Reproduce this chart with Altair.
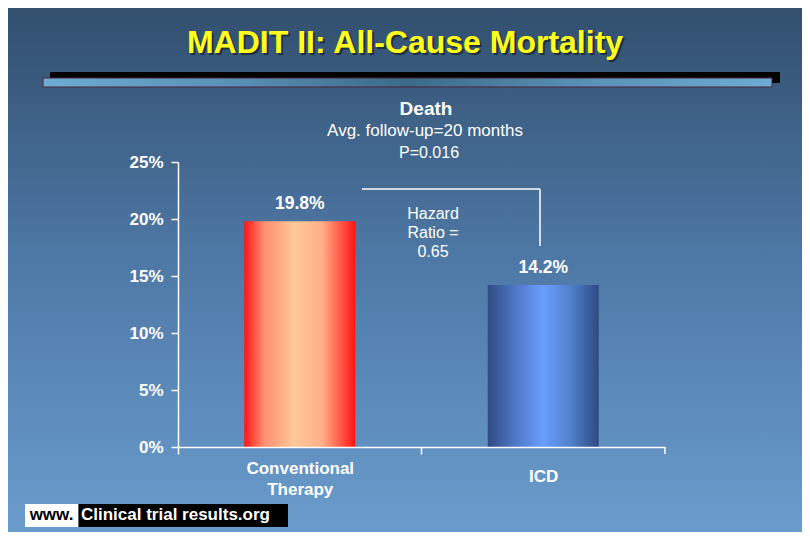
import altair as alt
import pandas as pd

# ---------------- data ----------------
categories = ["Conventional Therapy", "ICD"]
mortality = [0.198, 0.142]
y_ticks = [0, 0.05, 0.10, 0.15, 0.20, 0.25]
title_text = "MADIT II: All-Cause Mortality"
header_lines = ["Death", "Avg. follow-up=20 months", "P=0.016"]
hazard_lines = ["Hazard", "Ratio =", "0.65"]
footer_www = "www."
footer_site = "Clinical trial results.org"

# ---------------- layout helpers ----------------
W, H = 487, 285
PAD_L, PAD_T = 170, 154
PAD_R = 794 - PAD_L - W
PAD_B = 524 - PAD_T - H
FONT = "Liberation Sans"
STEP = W / 2


def px(x):
    return x - 8 - PAD_L


def py(y):
    return y - 8 - PAD_T


df = pd.DataFrame({"category": categories, "value": mortality})
one = pd.DataFrame({"a": [0]})

# ---------------- background ----------------
bg_grad = alt.Gradient(
    gradient="linear", x1=0, y1=0, x2=0, y2=1,
    stops=[alt.GradientStop(color="#324f6e", offset=0),
           alt.GradientStop(color="#4f7aa8", offset=0.5),
           alt.GradientStop(color="#6a9ccd", offset=1)])
background = alt.Chart(one).mark_rect(color=bg_grad).encode(
    x=alt.value(-PAD_L), x2=alt.value(W + PAD_R),
    y=alt.value(-PAD_T), y2=alt.value(H + PAD_B))

# decorative bar under title
deco_shadow = alt.Chart(one).mark_rect(color="#000000").encode(
    x=alt.value(px(50)), x2=alt.value(px(780)),
    y=alt.value(py(72)), y2=alt.value(py(83)))
deco_grad = alt.Gradient(
    gradient="linear", x1=0, y1=0, x2=1, y2=0,
    stops=[alt.GradientStop(color="#6cabd3", offset=0),
           alt.GradientStop(color="#5a92b8", offset=0.25),
           alt.GradientStop(color="#3b6a89", offset=0.5),
           alt.GradientStop(color="#5a92b8", offset=0.75),
           alt.GradientStop(color="#6cabd3", offset=1)])
deco_bar = alt.Chart(one).mark_rect(color=deco_grad, stroke="#4a2438", strokeWidth=1).encode(
    x=alt.value(px(43)), x2=alt.value(px(772)),
    y=alt.value(py(78)), y2=alt.value(py(87)))

# title
title_shadow = alt.Chart(one).mark_text(
    font=FONT, fontSize=32, fontWeight="bold", color="#1a2636", opacity=0.8,
    align="center", baseline="alphabetic").encode(
    x=alt.value(px(405) + 2), y=alt.value(py(53) + 2), text=alt.value(title_text))
title = alt.Chart(one).mark_text(
    font=FONT, fontSize=32, fontWeight="bold", color="#ffff1a",
    align="center", baseline="alphabetic").encode(
    x=alt.value(px(405)), y=alt.value(py(53)), text=alt.value(title_text))

# header text
header = (
    alt.Chart(one).mark_text(font=FONT, fontSize=19, fontWeight="bold", color="white",
                             align="center", baseline="alphabetic").encode(
        x=alt.value(px(426)), y=alt.value(py(115)), text=alt.value(header_lines[0]))
    + alt.Chart(one).mark_text(font=FONT, fontSize=17, color="white",
                               align="center", baseline="alphabetic").encode(
        x=alt.value(px(425)), y=alt.value(py(136)), text=alt.value(header_lines[1]))
    + alt.Chart(one).mark_text(font=FONT, fontSize=16, color="white",
                               align="center", baseline="alphabetic").encode(
        x=alt.value(px(429)), y=alt.value(py(158)), text=alt.value(header_lines[2]))
)

hazard = None
for i, line in enumerate(hazard_lines):
    t = alt.Chart(one).mark_text(font=FONT, fontSize=16, color="white",
                                 align="center", baseline="alphabetic").encode(
        x=alt.value(px(433)), y=alt.value(py(219.3 + 18.7 * i)), text=alt.value(line))
    hazard = t if hazard is None else hazard + t

# bracket
bracket = (
    alt.Chart(one).mark_rule(color="white", strokeWidth=1.5).encode(
        x=alt.value(px(362)), x2=alt.value(px(540)), y=alt.value(py(189)))
    + alt.Chart(one).mark_rule(color="white", strokeWidth=1.5).encode(
        x=alt.value(px(540)), y=alt.value(py(189)), y2=alt.value(py(246)))
)

# last category-boundary tick at the end of the x axis
end_tick = alt.Chart(one).mark_rule(color="white", strokeWidth=1.5).encode(
    x=alt.value(W), y=alt.value(H), y2=alt.value(H + 7))

# ---------------- bars ----------------
x_enc = alt.X("category:N", sort=categories,
              scale=alt.Scale(paddingInner=0.544, paddingOuter=0.272),
              axis=alt.Axis(title=None, labelExpr="split(datum.label, ' ')",
                            labelAngle=0, labelFont=FONT, labelFontSize=17,
                            labelFontWeight="bold", labelColor="white",
                            labelLineHeight=21, labelBaseline="middle",
                            labelPadding={"condition": {"test": "datum.value == 'ICD'",
                                                        "value": 22},
                                          "value": 14},
                            tickOffset=-STEP / 2, labelOffset=STEP / 2, tickSize=7,
                            tickColor="white", tickWidth=1.5,
                            domainColor="white", domainWidth=1.5, grid=False,
                            zindex=1))
y_enc = alt.Y("value:Q", scale=alt.Scale(domain=[0, 0.25]),
              axis=alt.Axis(title=None, values=y_ticks, format=".0%",
                            labelFont=FONT, labelFontSize=17, labelFontWeight="bold",
                            labelColor="white", labelPadding=8, tickSize=7,
                            tickColor="white", tickWidth=1.5,
                            domainColor="white", domainWidth=1.5, grid=False,
                            zindex=1))

base = alt.Chart(df).encode(x=x_enc, y=y_enc)

red_grad = alt.Gradient(
    gradient="linear", x1=0, y1=0, x2=1, y2=0,
    stops=[alt.GradientStop(color="#ff1414", offset=0),
           alt.GradientStop(color="#ff9070", offset=0.18),
           alt.GradientStop(color="#ffc898", offset=0.45),
           alt.GradientStop(color="#ffb088", offset=0.7),
           alt.GradientStop(color="#ff1414", offset=1)])
blue_grad = alt.Gradient(
    gradient="linear", x1=0, y1=0, x2=1, y2=0,
    stops=[alt.GradientStop(color="#2e4a82", offset=0),
           alt.GradientStop(color="#4f78c8", offset=0.25),
           alt.GradientStop(color="#6a9eff", offset=0.5),
           alt.GradientStop(color="#5080cc", offset=0.75),
           alt.GradientStop(color="#2e4a80", offset=1)])

bar_red = base.mark_bar(color=red_grad).transform_filter(
    alt.datum.category == categories[0])
bar_blue = base.mark_bar(color=blue_grad).transform_filter(
    alt.datum.category == categories[1])

labels = base.mark_text(font=FONT, fontSize=17.5, fontWeight="bold", color="white",
                        baseline="alphabetic", dy=-12).encode(
    text=alt.Text("value:Q", format=".1%"))

# ---------------- footer ----------------
footer = (
    alt.Chart(one).mark_rect(color="white").encode(
        x=alt.value(px(25)), x2=alt.value(px(78.5)),
        y=alt.value(py(504)), y2=alt.value(py(527)))
    + alt.Chart(one).mark_rect(color="black").encode(
        x=alt.value(px(78.5)), x2=alt.value(px(288)),
        y=alt.value(py(504)), y2=alt.value(py(527)))
    + alt.Chart(one).mark_text(font=FONT, fontSize=17, fontWeight="bold", color="black",
                               align="center", baseline="alphabetic").encode(
        x=alt.value(px(51.5)), y=alt.value(py(520)), text=alt.value(footer_www))
    + alt.Chart(one).mark_text(font=FONT, fontSize=17, fontWeight="bold", color="white",
                               align="left", baseline="alphabetic").encode(
        x=alt.value(px(81)), y=alt.value(py(520)), text=alt.value(footer_site))
)

chart = alt.layer(
    background, deco_shadow, deco_bar, title_shadow, title,
    header, hazard, bracket, bar_red, bar_blue, labels, end_tick, footer
).properties(
    width=W, height=H,
    padding={"left": PAD_L, "top": PAD_T, "right": PAD_R, "bottom": PAD_B},
    autosize=alt.AutoSizeParams(type="none"),
    background="#324f6e",
).configure_view(stroke=None)

chart.save("out.html", embed_options={"renderer": "svg", "actions": False})
